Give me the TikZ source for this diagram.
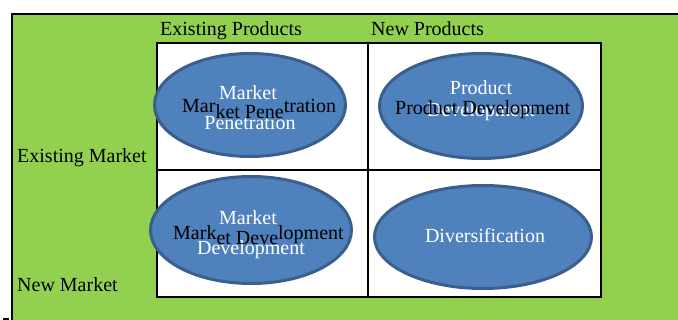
\documentclass[tikz,border=0pt]{standalone}
\usepackage{fontspec}
\setmainfont{Liberation Serif}
\usetikzlibrary{shapes.geometric}
\definecolor{mgreen}{HTML}{92D050}
\definecolor{mblue}{HTML}{4F81BD}
\definecolor{mblueline}{HTML}{3A5F8C}
\tikzset{
  quad/.style={ellipse,draw=mblueline,fill=mblue,line width=3pt,inner sep=0pt},
  wtext/.style={text=white,anchor=base,inner sep=0pt,font=\fontsize{20}{24}\selectfont},
  btext/.style={text=black,anchor=base west,inner sep=0pt,font=\fontsize{20}{24}\selectfont},
  grid/.style={line width=2pt}
}

\begin{document}
\begin{tikzpicture}[x=1pt,y=-1pt]
\useasboundingbox (0,0) rectangle (678,320);
\fill[mgreen] (12,14) rectangle (678,320);
\draw[grid] (12,320) -- (12,14) -- (678,14);
\draw[grid] (3,319) -- (9,319);
% the four boxes
\draw[grid,fill=white] (157,43) rectangle (601,297);
\draw[grid] (368,43) -- (368,297);
\draw[grid] (157,170) -- (601,170);
% heads
\node[btext] (ep) at (160,36) {Existing Products};
\node[btext] (np) at (371,36) {New Products};
\node[btext] (em) at (17,163) {Existing Market};
\node[btext] (nm) at (17,292) {New Market};
% strategies
\node[quad,minimum width=191pt,minimum height=103pt] (pen) at (250,105) {};
\node[quad,minimum width=203pt,minimum height=105pt] (pdev) at (481,106) {};
\node[quad,minimum width=201pt,minimum height=107pt] (mdev) at (251,230) {};
\node[quad,minimum width=217pt,minimum height=103pt] (div) at (483,237) {};
\node[wtext] (pen1) at (248,100) {Market};
\node[wtext] (pen2) at (250,130) {Penetration};
\node[wtext] (pdev1) at (481,95) {Product};
\node[wtext] (pdev2) at (481,117) {Development};
\node[wtext] (mdev1) at (248,225) {Market};
\node[wtext] (mdev2) at (251,255) {Development};
\node[wtext] (div1) at (485,243) {Diversification};
\node[btext] (penb) at (182,113) {Mar\raisebox{-6pt}{ket Pene}tration};
\node[btext] (pdevb) at (395,115) {Product Development};
\node[btext] (mdevb) at (173,240) {Mark\raisebox{-5pt}{et Deve}lopment};
\end{tikzpicture}
\end{document}
